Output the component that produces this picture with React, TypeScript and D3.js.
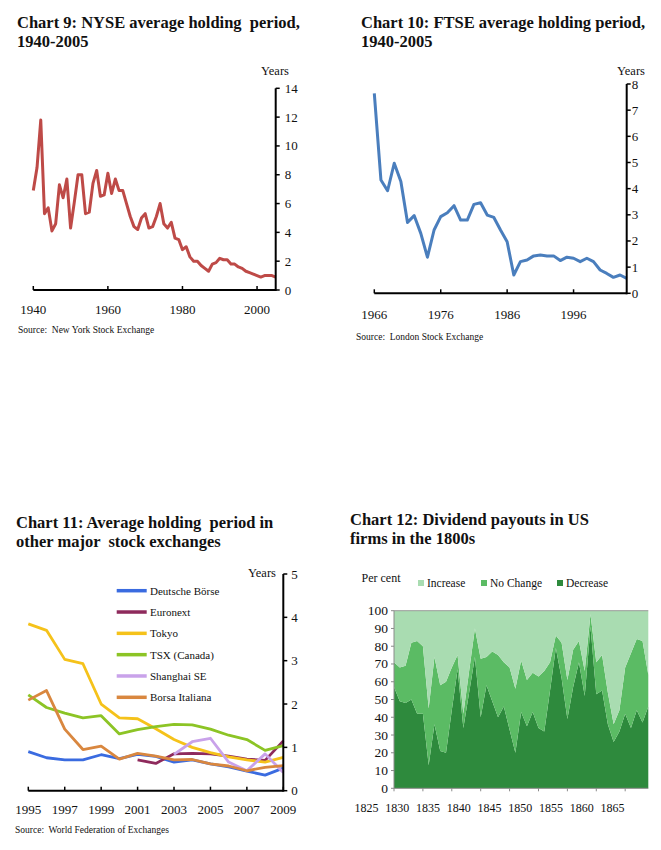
import React from 'react';
import * as d3 from 'd3';

const FONT = '"Liberation Serif", "Times New Roman", serif';

// ---------- Chart 9: NYSE ----------
const nyseStart = 1940;
const nyseValues = [
  6.9, 8.5, 11.8, 5.3, 5.7, 4.1, 4.6, 7.3, 6.4, 7.7,
  4.3, 6.1, 8.0, 8.0, 5.3, 5.4, 7.4, 8.3, 6.5, 6.6,
  8.1, 6.7, 7.7, 6.9, 6.9, 6.0, 5.1, 4.4, 4.2, 5.0,
  5.3, 4.3, 4.4, 5.1, 6.0, 4.6, 4.3, 4.7, 3.6, 3.5,
  2.8, 3.0, 2.3, 2.0, 2.0, 1.7, 1.5, 1.3, 1.8, 1.9,
  2.2, 2.1, 2.1, 1.8, 1.8, 1.6, 1.5, 1.3, 1.2, 1.1,
  1.0, 0.9, 1.0, 1.0, 1.0, 0.9,
];
const nyseXTicks = [1940, 1960, 1980, 2000];
const nyseYTicks = [0, 2, 4, 6, 8, 10, 12, 14];

// ---------- Chart 10: FTSE ----------
const ftseStart = 1966;
const ftseValues = [
  7.64, 4.33, 3.92, 4.97, 4.27, 2.71, 2.97, 2.29, 1.38, 2.42,
  2.93, 3.08, 3.35, 2.8, 2.8, 3.4, 3.46, 2.99, 2.9, 2.42,
  1.97, 0.7, 1.21, 1.27, 1.43, 1.46, 1.43, 1.43, 1.25, 1.38,
  1.34, 1.21, 1.34, 1.21, 0.89, 0.76, 0.61, 0.7, 0.57,
];
const ftseXTicks = [1966, 1976, 1986, 1996];
const ftseYTicks = [0, 1, 2, 3, 4, 5, 6, 7, 8];

// ---------- Chart 11: other exchanges ----------
const exNames = ['Deutsche Börse', 'Euronext', 'Tokyo', 'TSX (Canada)', 'Shanghai SE', 'Borsa Italiana'];
const exColors = ['#3a6be0', '#8e2a5c', '#f5c21a', '#8cc425', '#c9a2ea', '#d9873f'];
const exStarts = [1995, 2001, 1995, 1995, 2003, 1995];
const deutsche = [0.9, 0.76, 0.71, 0.71, 0.83, 0.74, 0.84, 0.79, 0.66, 0.71, 0.62, 0.55, 0.45, 0.36, 0.52];
const euronext = [0.71, 0.63, 0.85, 0.86, 0.85, 0.8, 0.73, 0.7, 1.15];
const tokyo = [3.85, 3.7, 3.03, 2.93, 2.0, 1.68, 1.66, 1.43, 1.18, 1.0, 0.88, 0.78, 0.71, 0.66, 0.77];
const tsx = [2.21, 1.92, 1.79, 1.68, 1.73, 1.31, 1.41, 1.48, 1.53, 1.52, 1.42, 1.28, 1.18, 0.93, 1.04];
const shanghai = [0.84, 1.13, 1.21, 0.66, 0.46, 0.85, 0.42];
const borsa = [2.09, 2.31, 1.42, 0.95, 1.03, 0.73, 0.86, 0.8, 0.71, 0.72, 0.62, 0.57, 0.46, 0.54, 0.58];
const exSeries = [deutsche, euronext, tokyo, tsx, shanghai, borsa];
const exXTicks = [1995, 1997, 1999, 2001, 2003, 2005, 2007, 2009];
const exYTicks = [0, 1, 2, 3, 4, 5];

// ---------- Chart 12: dividends ----------
const divStart = 1825;
const decrease = [57, 49, 48, 50, 42, 42, 13, 36, 21, 20, 44, 67, 34, 54, 74, 40, 58, 49, 40, 46, 33, 20, 43, 35, 43, 34, 32, 55, 79, 62, 39, 57, 71, 52, 91, 53, 55, 36, 26, 32, 42, 34, 44, 37, 46];
const noChange = [14, 19, 21, 32, 41, 38, 32, 38, 37, 40, 24, 8, 8, 12, 16, 33, 16, 28, 35, 25, 35, 36, 29, 26, 22, 29, 34, 16, 7, 20, 22, 21, 12, 14, 7, 18, 20, 18, 10, 12, 26, 42, 40, 46, 18];
const increase = [29, 32, 31, 18, 17, 20, 55, 26, 42, 40, 32, 25, 58, 34, 10, 27, 26, 23, 25, 29, 32, 44, 28, 39, 35, 37, 34, 29, 14, 18, 39, 22, 17, 34, 2, 29, 25, 46, 64, 56, 32, 24, 16, 17, 36];
const divKeys = ['decrease', 'noChange', 'increase'];
const divLabels = ['Increase', 'No Change', 'Decrease'];
const divColors: Record<string, string> = { decrease: '#2e8a3d', noChange: '#5bbb64', increase: '#a9dcb1' };
const divLegendKeys = ['increase', 'noChange', 'decrease'];
const divXLabels = ['1825', '1830', '1835', '1840', '1845', '1850', '1855', '1860', '1865'];
const divXTicks = [1825, 1830, 1835, 1840, 1845, 1850, 1855, 1860, 1865];
const divYTicks = [0, 10, 20, 30, 40, 50, 60, 70, 80, 90, 100];

function Title({ x, y, lines }: { x: number; y: number; lines: string[] }) {
  return (
    <g>
      {lines.map((l, i) => (
        <text key={i} x={x} y={y + i * 19} fontFamily={FONT} fontWeight="bold" fontSize={16.5} fill="#111" style={{ whiteSpace: 'pre' }}>
          {l}
        </text>
      ))}
    </g>
  );
}

function RightAxisLineChart(props: {
  x0: number; x1: number; yBottom: number; yTop: number;
  xDomain: [number, number]; yMax: number; start: number; values: number[];
  xTicks: number[]; yTicks: number[]; color: string; labelDx: number; xLabelY: number;
}) {
  const { x0, x1, yBottom, yTop, xDomain, yMax, start, values, xTicks, yTicks, color, labelDx, xLabelY } = props;
  const x = d3.scaleLinear().domain(xDomain).range([x0, x1]);
  const y = d3.scaleLinear().domain([0, yMax]).range([yBottom, yTop]);
  const line = d3.line<number>().x((_, i) => x(start + i)).y((d) => y(d));
  return (
    <g>
      <path d={line(values) || ''} fill="none" stroke={color} strokeWidth={3} strokeLinejoin="round" />
      <line x1={x0} x2={x1} y1={yBottom} y2={yBottom} stroke="#000" strokeWidth={2} />
      <line x1={x1} x2={x1} y1={yBottom + 1} y2={yTop} stroke="#000" strokeWidth={2} />
      {xTicks.map((t) => (
        <g key={t}>
          <line x1={x(t)} x2={x(t)} y1={yBottom} y2={yBottom - 4} stroke="#000" strokeWidth={1.5} />
          <text x={x(t)} y={xLabelY} textAnchor="middle" fontFamily={FONT} fontSize={13} fill="#111">{t}</text>
        </g>
      ))}
      {yTicks.map((t) => (
        <g key={t}>
          <line x1={x1} x2={x1 + 4} y1={y(t)} y2={y(t)} stroke="#000" strokeWidth={1.5} />
          <text x={x1 + labelDx} y={y(t) + 4.5} fontFamily={FONT} fontSize={13} fill="#111">{t}</text>
        </g>
      ))}
    </g>
  );
}

function Chart11() {
  const x0 = 28.3, x1 = 283.3, yB = 790.7, yT = 574;
  const x = d3.scaleLinear().domain([1995, 2009]).range([x0, x1]);
  const y = d3.scaleLinear().domain([0, 5]).range([yB, yT]);
  const legendY = d3.scalePoint<string>().domain(exNames).range([590.7, 697.3]);
  return (
    <g>
      {exSeries.map((vals, si) => {
        const line = d3.line<number>().x((_, i) => x(exStarts[si] + i)).y((d) => y(d));
        return <path key={si} d={line(vals) || ''} fill="none" stroke={exColors[si]} strokeWidth={2.8} strokeLinejoin="round" />;
      })}
      <line x1={x0} x2={x1} y1={yB} y2={yB} stroke="#000" strokeWidth={2} />
      <line x1={x1} x2={x1} y1={yB + 1} y2={yT} stroke="#000" strokeWidth={2} />
      {exXTicks.map((t) => (
        <g key={t}>
          <line x1={x(t)} x2={x(t)} y1={yB} y2={yB - 4} stroke="#000" strokeWidth={1.5} />
          <text x={x(t)} y={814} textAnchor="middle" fontFamily={FONT} fontSize={13} fill="#111">{t}</text>
        </g>
      ))}
      {exYTicks.map((t) => (
        <g key={t}>
          <line x1={x1} x2={x1 + 4} y1={y(t)} y2={y(t)} stroke="#000" strokeWidth={1.5} />
          <text x={x1 + 8} y={y(t) + 4.5} fontFamily={FONT} fontSize={13} fill="#111">{t}</text>
        </g>
      ))}
      <text x={262} y={577} textAnchor="middle" fontFamily={FONT} fontSize={12.5} fill="#111">Years</text>
      {exNames.map((n, i) => (
        <g key={n}>
          <line x1={116.7} x2={146.7} y1={legendY(n)} y2={legendY(n)} stroke={exColors[i]} strokeWidth={3.5} />
          <text x={150} y={(legendY(n) || 0) + 4} fontFamily={FONT} fontSize={11} fill="#111">{n}</text>
        </g>
      ))}
      <text x={15} y={833} fontFamily={FONT} fontSize={9.5} fill="#111" style={{ whiteSpace: 'pre' }}>Source:  World Federation of Exchanges</text>
    </g>
  );
}

function Chart12() {
  const left = 394, right = 648.3, yB = 788.3, yT = 610.7;
  const x = d3.scaleLinear().domain([divStart, divStart + decrease.length - 1]).range([left, right]);
  const y = d3.scaleLinear().domain([0, 100]).range([yB, yT]);
  const rows = decrease.map((d, i) => ({ year: divStart + i, decrease: d, noChange: noChange[i], increase: increase[i] }));
  const stack = d3.stack<any>().keys(divKeys)(rows);
  const area = d3.area<any>().x((d) => x(d.data.year)).y0((d) => y(d[0])).y1((d) => y(Math.min(100, d[1])));
  const labelX = d3.scalePoint<string>().domain(divXLabels).range([366.5, 612.5]);
  const legendX = d3.scaleOrdinal<string, number>().domain(divLegendKeys).range([418, 481, 557]);
  return (
    <g>
      {stack.map((s) => (
        <path key={s.key} d={area(s) || ''} fill={divColors[s.key]} stroke="none" />
      ))}
      <line x1={left} x2={right} y1={yT} y2={yT} stroke="#9a9a9a" strokeWidth={1} />
      <line x1={left} x2={left} y1={yT} y2={yB} stroke="#8a8a8a" strokeWidth={1} />
      <line x1={left} x2={right} y1={yB} y2={yB} stroke="#8a8a8a" strokeWidth={1} />
      {divYTicks.map((t) => (
        <g key={t}>
          <line x1={left - 3} x2={left} y1={y(t)} y2={y(t)} stroke="#8a8a8a" strokeWidth={1} />
          <text x={left - 6} y={y(t) + 4.5} textAnchor="end" fontFamily={FONT} fontSize={13.5} fill="#111">{t}</text>
        </g>
      ))}
      {divXTicks.map((t) => (
        <line key={t} x1={x(t)} x2={x(t)} y1={yB} y2={yB + 3} stroke="#8a8a8a" strokeWidth={1} />
      ))}
      {divXLabels.map((l) => (
        <text key={l} x={labelX(l)} y={812} textAnchor="middle" fontFamily={FONT} fontSize={12} fill="#111">{l}</text>
      ))}
      <text x={361.5} y={582} fontFamily={FONT} fontSize={12} fill="#111">Per cent</text>
      {divLegendKeys.map((k, i) => (
        <g key={k}>
          <rect x={legendX(k)} y={580} width={6} height={6} fill={divColors[k]} />
          <text x={legendX(k) + 9} y={587} fontFamily={FONT} fontSize={11.5} fill="#111">{divLabels[i]}</text>
        </g>
      ))}
    </g>
  );
}

export default function App() {
  return (
    <div style={{ position: 'absolute', left: 0, top: 0, width: 661, height: 850, background: '#fff' }}>
      <svg width={661} height={850} viewBox="0 0 661 850" style={{ display: 'block' }}>
        <rect x={0} y={0} width={661} height={850} fill="#fff" />
        <Title x={17} y={28} lines={['Chart 9: NYSE average holding  period,', '1940-2005']} />
        <Title x={361} y={28} lines={['Chart 10: FTSE average holding period,', '1940-2005']} />
        <Title x={16} y={528} lines={['Chart 11: Average holding  period in', 'other major  stock exchanges']} />
        <Title x={350} y={525} lines={['Chart 12: Dividend payouts in US', 'firms in the 1800s']} />

        <RightAxisLineChart x0={33.3} x1={275.7} yBottom={290} yTop={88.3} xDomain={[1940, 2005]} yMax={14}
          start={nyseStart} values={nyseValues} xTicks={nyseXTicks} yTicks={nyseYTicks} color="#be4a47" labelDx={9} xLabelY={314} />
        <text x={275} y={75} textAnchor="middle" fontFamily={FONT} fontSize={12.5} fill="#111">Years</text>
        <text x={18} y={333} fontFamily={FONT} fontSize={9.5} fill="#111" style={{ whiteSpace: 'pre' }}>Source:  New York Stock Exchange</text>

        <RightAxisLineChart x0={374.3} x1={626.7} yBottom={293.3} yTop={84} xDomain={[1966, 2004]} yMax={8}
          start={ftseStart} values={ftseValues} xTicks={ftseXTicks} yTicks={ftseYTicks} color="#4a7ebd" labelDx={5} xLabelY={319} />
        <text x={631} y={75} textAnchor="middle" fontFamily={FONT} fontSize={12.5} fill="#111">Years</text>
        <text x={356} y={340} fontFamily={FONT} fontSize={9.5} fill="#111" style={{ whiteSpace: 'pre' }}>Source:  London Stock Exchange</text>

        <Chart11 />
        <Chart12 />
      </svg>
    </div>
  );
}
